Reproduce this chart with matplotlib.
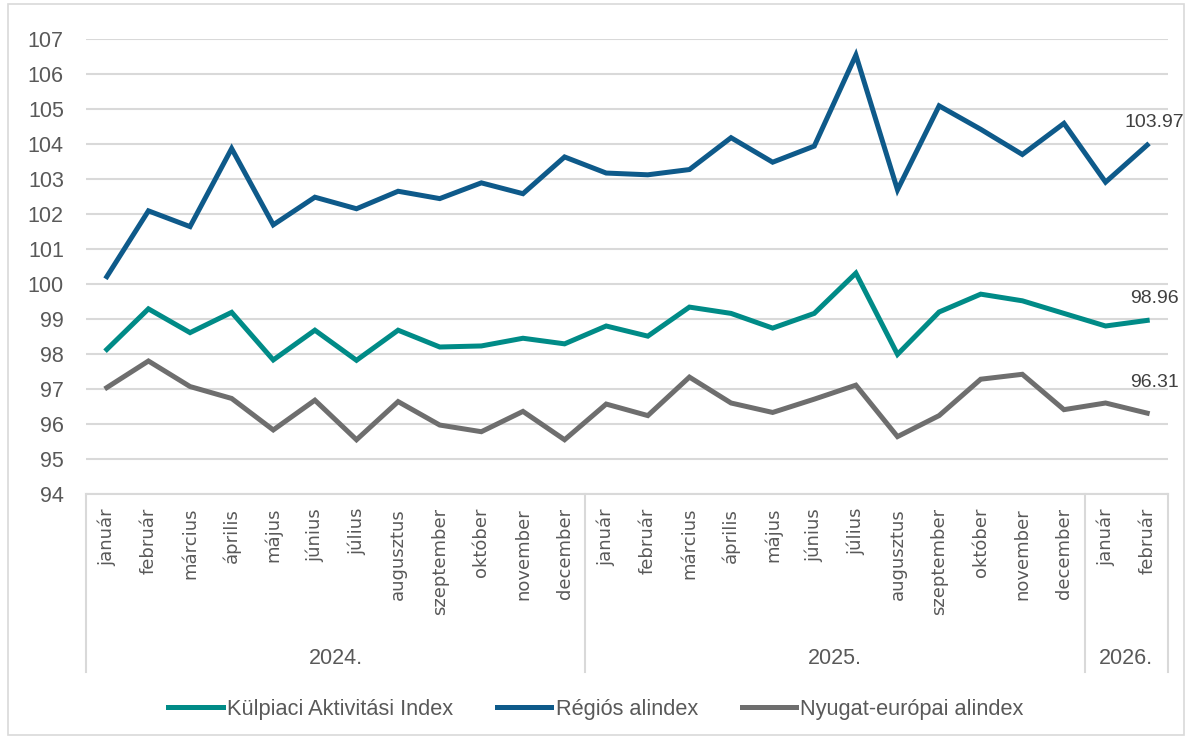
import matplotlib
matplotlib.use("Agg")
import matplotlib.pyplot as plt
from matplotlib.patches import Rectangle

# Data
months = ["január", "február", "március", "április", "május", "június", "július",
          "augusztus", "szeptember", "október", "november", "december"]
labels = months + months + months[:2]
years = ["2024.", "2025.", "2026."]
year_sizes = [12, 12, 2]

kulpiaci = [98.13, 99.29, 98.61, 99.19, 97.83, 98.68, 97.82, 98.68, 98.20, 98.23, 98.45, 98.29,
            98.80, 98.51, 99.34, 99.16, 98.74, 99.16, 100.31, 97.99, 99.20, 99.71, 99.52, 99.16,
            98.80, 98.96]
regios = [100.21, 102.09, 101.64, 103.87, 101.69, 102.48, 102.15, 102.65, 102.44, 102.89, 102.58, 103.63,
          103.17, 103.12, 103.27, 104.18, 103.48, 103.94, 106.54, 102.69, 105.09, 104.42, 103.70, 104.59,
          102.91, 103.97]
nyugat = [97.04, 97.80, 97.07, 96.73, 95.83, 96.68, 95.55, 96.64, 95.97, 95.78, 96.36, 95.55,
          96.57, 96.24, 97.34, 96.60, 96.33, 96.71, 97.11, 95.64, 96.24, 97.28, 97.42, 96.41,
          96.60, 96.31]

teal = "#008B87"
blue = "#0E5A8A"
grey = "#6E6E6E"
txt = "#595959"
font = ["Liberation Sans", "DejaVu Sans"]

fig = plt.figure(figsize=(11.92, 7.39), dpi=100)
ax = fig.add_axes([86/1192, 1-494/739, (1168-86)/1192, (494-39)/739])

x = list(range(len(labels)))
ax.plot(x, kulpiaci, color=teal, lw=3.6, label="Külpiaci Aktivitási Index", solid_joinstyle="miter")
ax.plot(x, regios, color=blue, lw=3.6, label="Régiós alindex", solid_joinstyle="miter")
ax.plot(x, nyugat, color=grey, lw=3.6, label="Nyugat-európai alindex", solid_joinstyle="miter")

# last value labels
for series, dy in ((kulpiaci, 16), (regios, 16), (nyugat, 22)):
    ax.annotate(f"{series[-1]:.2f}", (x[-1], series[-1]), xytext=(5, dy),
                textcoords="offset points", ha="center", va="center",
                fontsize=14, color="#404040", family=font)

ax.set_xlim(-0.5, len(labels) - 0.5)
ax.set_ylim(94, 107)
ax.set_yticks(range(94, 108))
ax.tick_params(axis="y", length=0, labelsize=15.5, labelcolor=txt, pad=16)
for t in ax.get_yticklabels():
    t.set_family(font)
ax.grid(axis="y", color="#D9D9D9", lw=1.5)
ax.set_axisbelow(True)
for s in ["left", "right", "top"]:
    ax.spines[s].set_visible(False)
ax.spines["bottom"].set_color("#D9D9D9")
ax.spines["bottom"].set_linewidth(1.5)

ax.set_xticks(x)
ax.set_xticklabels(labels, rotation=90, fontsize=13, color=txt, family="DejaVu Sans")
ax.tick_params(axis="x", length=0, pad=10)

# multi-level category axis
trans = ax.get_xaxis_transform()
line_bottom = (494 - 672) / (494 - 39)
year_y = (494 - 659) / (494 - 39)
start = -0.5
edges = [start]
for name, n in zip(years, year_sizes):
    ax.text(start + n / 2, year_y, name, transform=trans, ha="center", va="center",
            fontsize=15.5, color=txt, family=font)
    start += n
    edges.append(start)
for e in edges:
    ax.plot([e, e], [0, line_bottom], transform=trans, color="#D9D9D9", lw=1.5, clip_on=False)

fig.legend(loc="center", bbox_to_anchor=(0.5, 1 - 709/739), ncol=3, frameon=False,
           prop={"family": font, "size": 15.7}, handlelength=2.5, columnspacing=2.0,
           handletextpad=0.2, labelcolor=txt)

fig.patches.append(Rectangle((8/1192, 4/739), 1 - 16/1192, 1 - 8/739, transform=fig.transFigure,
                             fill=False, edgecolor="#D9D9D9", lw=1.2))

fig.savefig("out.png", dpi=100)
